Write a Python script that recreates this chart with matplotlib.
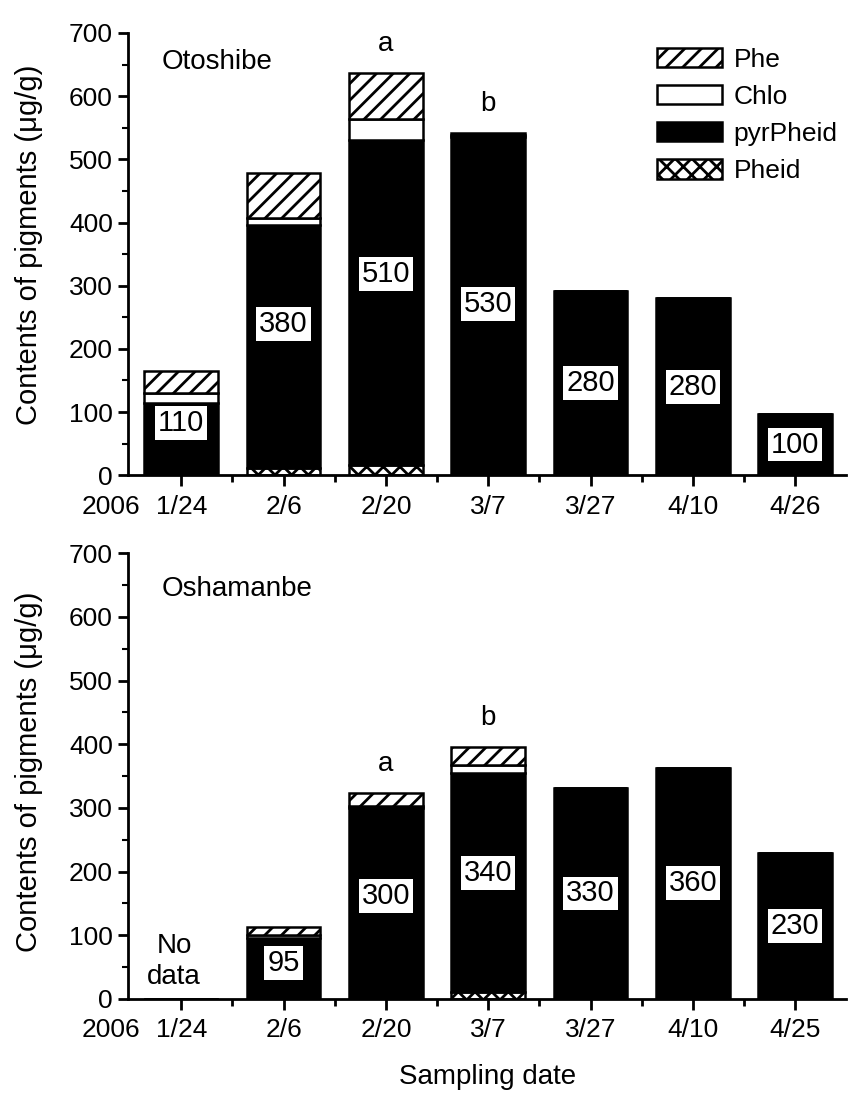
import matplotlib
matplotlib.use("Agg")
import matplotlib.pyplot as plt
import numpy as np

plt.rcParams['font.family'] = ['Liberation Sans', 'DejaVu Sans']
plt.rcParams['hatch.linewidth'] = 2.0

dates_top = ["1/24", "2/6", "2/20", "3/7", "3/27", "4/10", "4/26"]
dates_bot = ["1/24", "2/6", "2/20", "3/7", "3/27", "4/10", "4/25"]

# Otoshibe (top)
top_pheid = [0, 11, 16, 0, 0, 0, 0]
top_pyr = [114, 385, 515, 535, 292, 280, 97]
top_chlo = [16, 11, 33, 3, 0, 0, 0]
top_phe = [35, 71, 73, 4, 0, 0, 0]
top_labels = ["110", "380", "510", "530", "280", "280", "100"]
top_letters = {2: "a", 3: "b"}

# Oshamanbe (bottom)
bot_pheid = [0, 0, 0, 10, 0, 0, 0]
bot_pyr = [0, 96, 300, 345, 331, 363, 229]
bot_chlo = [0, 4, 3, 12, 0, 0, 0]
bot_phe = [0, 13, 20, 29, 0, 0, 0]
bot_labels = [None, "95", "300", "340", "330", "360", "230"]
bot_letters = {2: "a", 3: "b"}

fig = plt.figure(figsize=(8.48, 11.0), dpi=100)
ax1 = fig.add_axes([0.151, 0.568, 0.847, 0.402])
ax2 = fig.add_axes([0.151, 0.092, 0.847, 0.405])

def draw(ax, dates, pheid, pyr, chlo, phe, labels, letters, name, name_y, ylab_y, legend=False):
    x = np.arange(len(dates))
    w = 0.72
    pheid = np.array(pheid, float); pyr = np.array(pyr, float)
    chlo = np.array(chlo, float); phe = np.array(phe, float)
    b0 = ax.bar(x, pheid, w, color='white', edgecolor='black', hatch='xx', lw=1.8, label='Pheid')
    b1 = ax.bar(x, pyr, w, bottom=pheid, color='black', edgecolor='black', lw=1.8, label='pyrPheid')
    b2 = ax.bar(x, chlo, w, bottom=pheid + pyr, color='white', edgecolor='black', lw=1.8, label='Chlo')
    b3 = ax.bar(x, phe, w, bottom=pheid + pyr + chlo, color='white', edgecolor='black', hatch='//', lw=1.8, label='Phe')
    total = pheid + pyr + chlo + phe
    for i, lab in enumerate(labels):
        if lab is None:
            continue
        ax.text(x[i], total[i] / 2, lab, ha='center', va='center', fontsize=21,
                bbox=dict(boxstyle='square,pad=0.1', fc='white', ec='none'))
    for i, l in letters.items():
        ax.text(x[i], total[i] + 25, l, ha='center', va='bottom', fontsize=20)
    ax.set_xlim(-0.52, 6.5)
    ax.set_ylim(0, 700)
    ax.set_yticks(np.arange(0, 701, 100))
    ax.set_yticks(np.arange(50, 701, 100), minor=True)
    ax.set_xticks(x)
    ax.set_xticks(x[:-1] + 0.5, minor=True)
    ax.set_xticklabels(dates)
    ax.tick_params(axis='both', which='major', labelsize=19, width=2, length=7, direction='out', pad=4)
    ax.tick_params(axis='both', which='minor', width=1.5, length=4, direction='out')
    ax.tick_params(axis='x', which='major', length=8, pad=6)
    ax.tick_params(axis='x', which='minor', length=5, width=2)
    for s in ['top', 'right']:
        ax.spines[s].set_visible(False)
    for s in ['left', 'bottom']:
        ax.spines[s].set_linewidth(2)
    ax.set_ylabel("Contents of pigments (\u03bcg/g)", fontsize=21)
    ax.yaxis.set_label_coords(-0.118, ylab_y)
    hpx = ax.get_position().height * fig.get_figheight() * 72.0
    ax.text(0.017, -14.0 / hpx, "2006", transform=ax.transAxes, ha='right', va='top', fontsize=19)
    ax.text(0.047, name_y, name, transform=ax.transAxes, ha='left', va='center', fontsize=20)
    if legend:
        ax.legend(handles=[b3, b2, b1, b0], loc='upper right', bbox_to_anchor=(1.01, 1.003),
                  frameon=False, fontsize=19, handlelength=2.45, handleheight=0.76,
                  handletextpad=0.45, labelspacing=0.5, borderaxespad=0.2)

draw(ax1, dates_top, top_pheid, top_pyr, top_chlo, top_phe, top_labels, top_letters,
     "Otoshibe", 0.935, 0.52, legend=True)
draw(ax2, dates_bot, bot_pheid, bot_pyr, bot_chlo, bot_phe, bot_labels, bot_letters,
     "Oshamanbe", 0.92, 0.51)
ax2.text(-0.07, 58, "No\ndata", ha='center', va='center', fontsize=20, linespacing=1.25)
ax2.set_xlabel("Sampling date", fontsize=20, labelpad=16)

fig.savefig("out.png", dpi=100)
